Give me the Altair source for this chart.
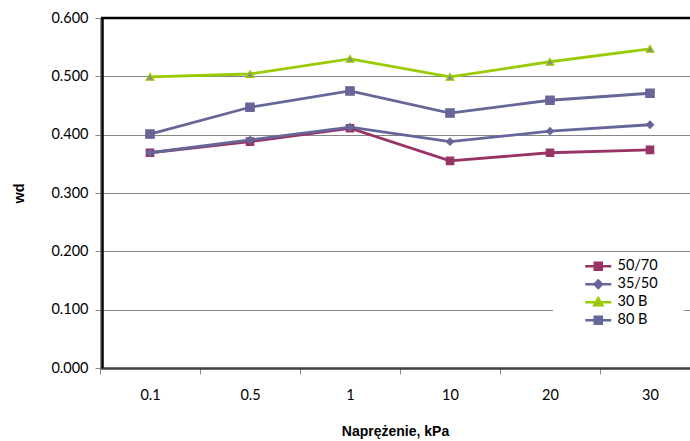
import altair as alt
import pandas as pd

categories = ["0.1", "0.5", "1", "10", "20", "30"]
series_names = ["50/70", "35/50", "30 B", "80 B"]
v_50_70 = [0.369, 0.388, 0.411, 0.355, 0.369, 0.374]
v_35_50 = [0.369, 0.391, 0.413, 0.388, 0.406, 0.417]
v_30B = [0.499, 0.504, 0.530, 0.499, 0.525, 0.547]
v_80B = [0.401, 0.447, 0.475, 0.437, 0.459, 0.471]
y_ticks = [0.0, 0.1, 0.2, 0.3, 0.4, 0.5, 0.6]

line_colors = ["#993366", "#666699", "#99CC00", "#666699"]
fill_colors = ["#993366", "#666699", "#8C8C8C", "#666699"]
marker_shapes = ["square", "diamond", "triangle-up", "square"]
marker_sizes = [55, 50, 60, 70]
legend_paths = [
    "M-2.6,0H2.6M-0.7,-0.7H0.7V0.7H-0.7Z",
    "M-2.6,0H2.6M0,-0.75L0.75,0L0,0.75L-0.75,0Z",
    "M-2.6,0H2.6M0,-0.8L0.8,0.6H-0.8Z",
    "M-2.6,0H2.6M-0.7,-0.7H0.7V0.7H-0.7Z",
]

all_values = [v_50_70, v_35_50, v_30B, v_80B]
rows = []
for name, vals in zip(series_names, all_values):
    for c, v in zip(categories, vals):
        rows.append({"kPa": c, "series": name, "value": v})
df = pd.DataFrame(rows)

LABEL_FONT = "Lato"
TITLE_FONT = "Liberation Sans"

x_enc = alt.X(
    "kPa:N",
    sort=categories,
    scale=alt.Scale(domain=categories, range=[0, 600], paddingInner=0, paddingOuter=0),
    axis=alt.Axis(
        title="Naprężenie, kPa",
        labelAngle=0,
        tickBand="extent",
        tickSize=6,
        tickColor="#868686",
        domainColor="#404040",
        domainWidth=2.5,
        labelFont=LABEL_FONT,
        labelFontSize=14.5,
        labelColor="black",
        labelPadding=14,
        titleFont=TITLE_FONT,
        titleFontWeight="bold",
        titleFontSize=14,
        titleColor="black",
        titlePadding=23,
        titleX=295,
    ),
)
y_enc = alt.Y(
    "value:Q",
    scale=alt.Scale(domain=[0, 0.6], nice=False, zero=True),
    axis=alt.Axis(
        title="wd",
        values=y_ticks,
        format=".3f",
        grid=True,
        gridColor="#868686",
        gridWidth=1,
        tickColor="#868686",
        tickSize=5,
        domainColor="#868686",
        domainWidth=1,
        labelFont=LABEL_FONT,
        labelFontSize=14.5,
        labelColor="black",
        labelPadding=7,
        titleFont=TITLE_FONT,
        titleFontWeight="bold",
        titleFontSize=14.5,
        titleColor="black",
        titlePadding=24,
    ),
)

base = alt.Chart(df)
layers = []
for i, name in enumerate(series_names):
    sub = base.transform_filter(alt.datum.series == name)
    layers.append(
        sub.mark_line(color=line_colors[i], strokeWidth=2.8).encode(x=x_enc, y=y_enc)
    )
    layers.append(
        sub.mark_point(
            shape=marker_shapes[i],
            filled=True,
            fill=fill_colors[i],
            stroke=line_colors[i],
            strokeWidth=1.2,
            size=marker_sizes[i],
            opacity=1,
        ).encode(x=x_enc, y=y_enc)
    )

frame_df = pd.DataFrame({"a": [0]})
top_rule = alt.Chart(frame_df).mark_rule(color="black", strokeWidth=2.5).encode(
    x=alt.value(1), x2=alt.value(590), y=alt.value(0)
)
left_rule = alt.Chart(frame_df).mark_rule(color="black", strokeWidth=2.5).encode(
    x=alt.value(2.5), y=alt.value(-1), y2=alt.value(350)
)

legend_props = dict(
    title=" ",
    titleOrient="right",
    titlePadding=21,
    orient="none",
    legendX=453,
    legendY=236,
    padding=5,
    fillColor="white",
    symbolSize=100,
    symbolStrokeWidth=2.5,
    symbolOffset=33,
    labelOffset=12,
    labelFont=LABEL_FONT,
    labelFontSize=14.5,
    labelColor="black",
    rowPadding=0,
)
legend_layer = (
    alt.Chart(df)
    .transform_filter("false")
    .mark_point(filled=True, opacity=1)
    .encode(
        shape=alt.Shape(
            "series:N",
            scale=alt.Scale(domain=series_names, range=legend_paths),
            legend=alt.Legend(**legend_props),
        ),
        stroke=alt.Stroke(
            "series:N",
            scale=alt.Scale(domain=series_names, range=line_colors),
            legend=alt.Legend(**legend_props),
        ),
        fill=alt.Fill(
            "series:N",
            scale=alt.Scale(domain=series_names, range=fill_colors),
            legend=alt.Legend(**legend_props),
        ),
    )
)

chart = (
    alt.layer(*layers, left_rule, top_rule, legend_layer)
    .properties(
        width=590,
        height=350,
        autosize=alt.AutoSizeParams(type="none"),
        padding={"left": 100, "top": 18, "right": 0, "bottom": 73},
        background="white",
    )
    .configure_view(stroke=None)
)

chart.save("out.html", embed_options={"renderer": "svg", "actions": False})
